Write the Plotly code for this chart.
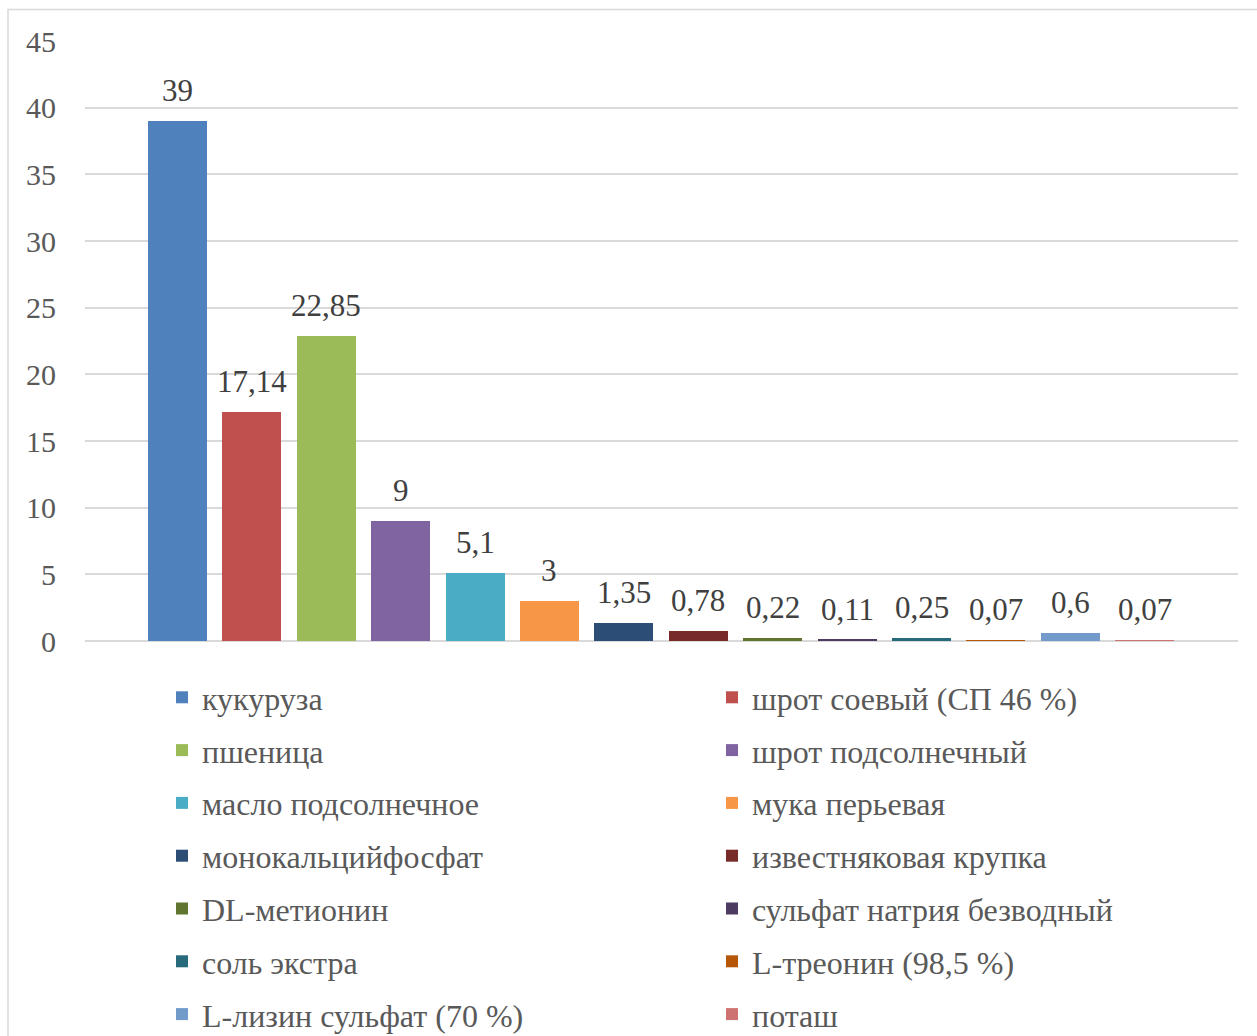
import plotly.graph_objects as go

# Feed ingredients and their share in the ration, %
ingredients = [
    "кукуруза",
    "шрот соевый (СП 46 %)",
    "пшеница",
    "шрот подсолнечный",
    "масло подсолнечное",
    "мука перьевая",
    "монокальцийфосфат",
    "известняковая крупка",
    "DL-метионин",
    "сульфат натрия безводный",
    "соль экстра",
    "L-треонин (98,5 %)",
    "L-лизин сульфат (70 %)",
    "поташ",
]
shares = [39, 17.14, 22.85, 9, 5.1, 3, 1.35, 0.78, 0.22, 0.11, 0.25, 0.07, 0.6, 0.07]
colors = [
    "#4F81BD", "#C0504D", "#9BBB59", "#8064A2", "#4BACC6", "#F79646", "#2C4D75",
    "#772C2A", "#5F7530", "#4D3B62", "#276A7C", "#B65708", "#729ACA", "#CD7371",
]
y_ticks = [0, 5, 10, 15, 20, 25, 30, 35, 40, 45]

FONT = "Liberation Serif, Times New Roman, serif"
W, H = 1257, 1036
PLOT_L, PLOT_R, PLOT_T, PLOT_B = 85, 1238, 41, 641

def fmt(v):
    return f"{v:g}".replace(".", ",")

fig = go.Figure()
for i, (name, val, col) in enumerate(zip(ingredients, shares, colors)):
    fig.add_trace(go.Bar(
        x=[i], y=[val], name=name, width=0.793,
        marker=dict(color=col, line=dict(width=0)),
        legend="legend" if i % 2 == 0 else "legend2",
        legendgroup=f"g{i}",
        hoverinfo="skip",
    ))
    fig.add_annotation(
        x=i, y=val, text=fmt(val), showarrow=False,
        yanchor="bottom", yshift=11,
        font=dict(family=FONT, size=31, color="#404040"),
    )

# outer chart frame
px2x = lambda p: (p - PLOT_L) / (PLOT_R - PLOT_L)
px2y = lambda p: (PLOT_B - p) / (PLOT_B - PLOT_T)
fig.add_shape(
    type="rect", xref="paper", yref="paper",
    x0=px2x(8), x1=px2x(1300), y0=px2y(1100), y1=px2y(9.5),
    line=dict(color="#d9d9d9", width=1.5), fillcolor="rgba(0,0,0,0)", layer="below",
)

legend_common = dict(
    xref="container", yref="container", yanchor="top", xanchor="left",
    orientation="v", bgcolor="rgba(0,0,0,0)",
    font=dict(family=FONT, size=32, color="#595959"),
    tracegroupgap=8.2, itemwidth=30, traceorder="grouped",
)

fig.update_layout(
    width=W, height=H,
    margin=dict(l=PLOT_L, r=W - PLOT_R, t=PLOT_T, b=H - PLOT_B, autoexpand=False),
    paper_bgcolor="white", plot_bgcolor="white",
    bargap=0,
    showlegend=True,
    legend=dict(x=162 / W, y=1 - 670 / H, **legend_common),
    legend2=dict(x=712 / W, y=1 - 670 / H, **legend_common),
    xaxis=dict(
        range=[-1.243, 14.254], showticklabels=False, showgrid=False,
        zeroline=False, showline=False, ticks="",
    ),
    yaxis=dict(
        range=[0, 45], tickvals=y_ticks, ticktext=[str(t) for t in y_ticks],
        showgrid=True, gridcolor="#d9d9d9", gridwidth=1.5,
        zeroline=True, zerolinecolor="#d9d9d9", zerolinewidth=1.5,
        showline=False, ticks="", ticklabelstandoff=28,
        tickfont=dict(family=FONT, size=30, color="#595959"),
    ),
)

fig.write_html("out.html")
